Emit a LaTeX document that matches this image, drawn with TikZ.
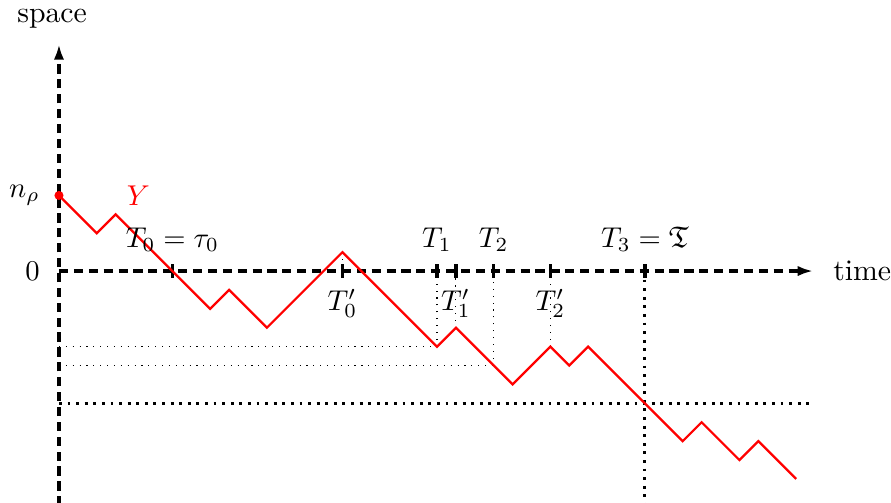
\documentclass[tikz,border=0pt]{standalone}
\usepackage{amsmath}
\usepackage{amssymb}
\usepackage{tikz}
\usetikzlibrary{arrows.meta, positioning}

\begin{document}
\begin{tikzpicture}[
        x=0.232cm, y=0.232cm,
        every node/.style={font=\fontsize{10.4pt}{12pt}\selectfont},
        axis/.style={line width=1.2pt, dash pattern=on 3.2pt off 2pt, -{Latex[length=5.4pt, width=3.6pt]}},
        walk/.style={red, line width=0.8pt, line join=miter},
        tickmark/.style={rectangle, fill=black, inner sep=0pt, minimum width=1.2pt, minimum height=4.8pt},
        guide/.style={dotted, line width=0.4pt},
        bigguide/.style={dotted, line width=1pt}
    ]

    \useasboundingbox (-3.12,-12.22) rectangle (44.02,14.34);

    % Axes
    \coordinate (o) at (0,0);
    \coordinate (ytop) at (0,12);
    \coordinate (ybot) at (0,-12.4);
    \coordinate (xend) at (39.9,0);

    % Points of the walk used by the guides
    \coordinate (start) at (0,4);
    \coordinate (peak0) at (15,1);
    \coordinate (low1) at (20,-4);
    \coordinate (peak1) at (21,-3);
    \coordinate (cut2) at (23,-5);
    \coordinate (peak2) at (26,-4);
    \coordinate (bot3) at (31,-12.4);
    \coordinate (lvl4) at (0,-4);
    \coordinate (lvl5) at (0,-5);
    \coordinate (lvl7) at (0,-7);
    \coordinate (end7) at (39.9,-7);

    % Thin guides
    \draw [guide] (lvl4) -- (low1);
    \draw [guide] (lvl5) -- (cut2);
    \draw [guide] (peak0) -- (15,0);
    \draw [guide] (low1) -- (20,0);
    \draw [guide] (peak1) -- (21,0);
    \draw [guide] (cut2) -- (23,0);
    \draw [guide] (peak2) -- (26,0);

    % Thick guides
    \draw [bigguide] (lvl7) -- (end7);
    \draw [bigguide] (31,0) -- (bot3);

    \draw [axis] (ybot) -- (ytop);
    \draw [axis] (o) -- (xend);

    % Ticks on the time axis
    \node [tickmark] (t0) at (6,0) {};
    \node [tickmark] (t0p) at (15,0) {};
    \node [tickmark] (t1) at (20,0) {};
    \node [tickmark] (t1p) at (21,0) {};
    \node [tickmark] (t2) at (23,0) {};
    \node [tickmark] (t2p) at (26,0) {};
    \node [tickmark] (t3) at (31,0) {};

    % The walk
    \draw [walk] (start) -- (2,2) -- (3,3) -- (8,-2) -- (9,-1) -- (11,-3) -- (peak0)
        -- (low1) -- (peak1) -- (24,-6) -- (peak2) -- (27,-5) -- (28,-4)
        -- (33,-9) -- (34,-8) -- (36,-10) -- (37,-9) -- (39,-11);
    \fill [red] (start) circle (0.24);

    % Labels
    \node [above=2.2pt of ytop, xshift=-2.4pt] (space) {space};
    \node [right=3.5pt of xend] (time) {time};
    \node [left=3.2pt of o] (zero) {$0$};
    \node [left=3.2pt of start] (nrho) {$n_\rho$};
    \node [red] (ylbl) at (4.2,4) {$Y$};

    \node [above=0.6pt of t0] {$T_0 = \tau_0$};
    \node [above=0.6pt of t1] {$T_1$};
    \node [above=0.6pt of t2] {$T_2$};
    \node [above=0.6pt of t3] {$T_3 = \mathfrak{T}$};
    \node [below=0.2pt of t0p] {$T_0'$};
    \node [below=0.2pt of t1p] {$T_1'$};
    \node [below=0.2pt of t2p] {$T_2'$};

\end{tikzpicture}
\end{document}
